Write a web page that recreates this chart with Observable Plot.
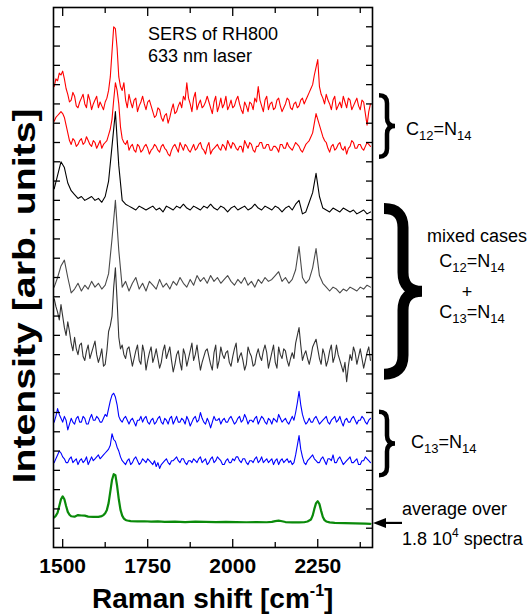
<!DOCTYPE html>
<html><head><meta charset="utf-8">
<script src="https://cdn.jsdelivr.net/npm/d3@7"></script>
<script src="https://cdn.jsdelivr.net/npm/@observablehq/plot@0.6"></script>
<style>html,body{margin:0;padding:0;background:#fff;} #chart svg{display:block;}</style>
</head><body><div id="chart"></div>
<script>
// Raman shift sampling (cm^-1)
const wavenumbersFine = d3.range(1475, 2406, 5);
const wavenumbersCoarse = d3.range(1475, 2406, 10);
// spectra, intensity relative to each trace's own baseline (arb. units)
const redA = [10,14,13,17,16,18,14,9,6,2,3,7,5,0,-1,2,4,6,1,-1,
  6,3,-2,1,3,5,-1,2,0,-2,2,4,8,15,28,41,40,30,15,10,
  8,12,3,-1,6,2,-1,3,4,-3,0,2,5,1,-2,2,3,0,-3,-6,
  -5,-1,-2,-6,-8,-5,-4,-9,-6,-2,1,-4,-3,0,2,-1,5,3,12,4,
  1,-3,4,7,-2,1,3,-1,0,2,5,2,-1,-4,2,5,-3,0,4,-1,
  1,5,-2,0,3,-1,0,3,5,1,-2,-4,2,0,-3,2,1,-2,4,2,
  10,3,0,-3,3,5,-2,1,2,-2,-1,3,4,0,-3,-1,1,4,3,-1,
  -2,1,2,-1,0,3,4,1,3,5,7,9,11,16,20,24,10,6,4,1,
  6,3,1,-2,3,5,-2,0,2,-1,5,2,-1,4,3,-2,0,2,4,0,
  -2,3,2,-4,-10,-3,1];
const redB = [13,15,16,17,18,17,15,11,7,3,1,4,3,0,1,3,4,1,2,5,
  3,1,0,3,2,-1,1,3,-1,1,2,3,6,9,14,24,33,29,22,10,
  4,2,1,3,-2,0,1,-2,-3,1,0,-3,-2,0,1,-1,-4,-2,-1,1,
  0,-2,-3,0,1,-1,-2,-4,-5,-2,0,1,-1,-3,2,0,-2,1,0,-2,
  -3,-1,1,-2,-1,1,2,-1,-2,-4,0,2,-4,-2,-1,0,1,-1,-2,1,
  0,-2,3,1,-1,2,1,-1,-2,0,0,-3,3,1,-1,2,1,-2,-3,0,
  0,2,2,-1,-1,1,1,-2,-2,0,0,-1,-3,1,1,-1,-1,2,0,-1,
  -2,0,2,1,0,-2,-3,-1,1,2,3,5,7,12,17,14,11,8,5,3,
  2,-1,-3,0,1,-2,-1,1,2,-1,-2,0,-4,-1,0,3,2,-1,-1,1,
  1,-1,-2,0,2,1,0];
const mixedA = [10,17,24,21,13,9,7,5,6,4, 5,6,4,5,3,6,14,32,50,22, 4,2,1,0,-1,1,0,-1,0,1,
  -1,0,-2,1,0,-1,1,0,2,0, -1,1,0,-1,1,0,2,0,-1,1, 0,-2,0,1,-1,0,1,-1,0,2,
  0,-1,1,0,-1,1,0,-2,0,1, -1,2,4,-3,-2,3,8,18,6,0, -1,-2,0,-1,-2,0,-1,-2,-1,-3, -2,-1,-3,-2];
const mixedB = [-1,4,10,13,4,-4,-2,1,-3,0, -2,2,-1,1,-2,0,6,24,44,18, -1,2,-3,1,4,-2,1,-3,2,0,
  -2,3,-1,1,-2,2,0,4,1,-1, 3,0,5,2,4,1,5,2,4,1, 3,5,2,0,3,1,4,0,2,-1,
  3,1,4,2,3,5,7,2,4,1, 3,8,20,4,1,3,9,19,5,1, -1,-3,-1,-2,-4,-2,-3,-1,-2,-3, -1,-2,0,-1];
const mixedC = [29,25,22,18,26,20,14,10,17,12,6,2,9,3,0,5,6,-1,-3,2,
  5,-2,1,4,7,0,-4,-1,3,-6,-5,2,12,15,20,35,45,28,9,3,
  5,0,-2,3,4,-1,-6,-2,2,5,-3,-5,5,1,-8,-3,1,4,-4,-1,
  3,-2,-7,-4,2,5,-2,1,4,-3,-9,-5,0,2,-4,-8,3,0,-6,-2,
  2,6,-3,0,5,-2,-8,-4,-1,2,3,-1,-5,-8,1,5,-7,-3,4,0,
  -2,1,2,-4,-6,-1,3,6,-4,-1,1,-3,-8,-5,4,1,-1,-6,-5,0,
  3,-1,-3,2,5,1,-7,-3,1,5,-4,-7,4,0,-2,3,2,-3,-6,-2,
  1,-2,6,10,14,5,-3,0,2,-2,-5,-1,4,6,8,3,-2,-5,3,0,
  -6,-3,2,5,-4,-1,5,0,-3,-6,-9,-4,-14,-6,0,-3,4,1,-5,-1,
  3,-2,-7,-3,1,4,-3];
const blueA = [-1,2,6,3,1,-1,2,0,-5,-2,1,-1,-2,1,2,-1,-1,2,1,-2,
  -2,1,3,0,0,2,1,-1,-1,1,3,2,6,10,13,14,12,8,2,0,
  -1,1,2,0,-2,0,1,-1,-3,0,0,2,-1,1,2,-1,-2,0,1,-2,
  -1,1,2,-1,-2,1,0,-2,1,2,-2,0,2,-1,-1,1,0,-2,2,0,
  -3,-1,1,2,-1,0,4,1,-1,-2,1,-1,-4,-1,2,0,0,1,-2,0,
  1,-1,-1,1,2,0,-2,-1,1,2,-1,0,3,1,-2,0,0,-1,1,2,
  -2,0,2,1,-1,-2,1,0,-2,1,0,-1,3,1,-1,0,1,-1,-2,0,
  2,0,4,9,15,8,3,0,-2,-1,1,-1,-1,1,2,0,-2,-1,0,1,
  2,-1,-2,0,1,2,-1,0,2,-1,-3,0,1,-1,-1,1,2,0,-2,0,
  0,2,1,-1,-2,0,1];
const blueB = [-1,1,3,5,4,2,1,-1,-1,1,2,-1,0,1,-2,0,1,-1,0,2,
  -2,0,2,0,1,2,3,1,2,3,4,5,6,8,14,11,10,7,5,2,
  0,-1,-2,0,1,-2,-1,1,2,0,-2,-1,1,0,-1,1,0,-1,-2,0,
  -3,-1,-4,-2,-1,0,1,-1,-2,0,0,1,2,0,-1,1,1,-1,-2,0,
  0,-1,1,0,-1,1,2,-1,0,1,-2,-1,1,2,-1,0,2,1,0,-2,
  -2,0,1,-1,-1,1,0,2,2,0,-1,1,1,-1,-2,0,0,-1,1,2,
  -1,0,2,-1,0,1,-1,0,1,-2,0,1,-2,0,1,-1,0,1,-1,0,
  -2,-1,3,8,13,6,2,-1,-2,0,1,2,3,1,0,-1,-1,1,2,0,
  -2,1,1,0,3,-1,-1,1,2,0,-2,-1,0,1,2,-1,-1,0,1,-2,
  -2,0,0,2,1,0,-1];
// average spectrum (sampled points)
const avgX = [1475,1480,1485,1490,1495,1500,1505,1510,1515,1520,1525,1535,1545,1555,1565,1575,1590,1605,1615,1620,
  1625,1630,1635,1640,1645,1650,1655,1660,1665,1670,1675,1680,1685,1690,1700,1720,1740,1760,1780,1800,
  1830,1860,1890,1920,1950,1980,2010,2040,2070,2100,2115,2125,2135,2145,2155,2175,2195,2210,2220,2230,
  2235,2240,2245,2250,2255,2260,2265,2270,2275,2285,2300,2330,2360,2390,2405];
const avgY = [2.6,3.5,5,8.5,12,13.5,12,8.5,5.5,4,3.2,3,3.8,3.6,3.5,3,2.9,2.9,3.3,3.8,
  4.8,6.5,10,16,22,25,24.5,19,12,6.5,3.5,2,1.3,1,0.7,0.5,0.6,0.4,0.5,0.3,
  0.4,0.2,0.4,0.3,0.2,0.3,0.2,0.1,0.2,0.1,0.3,0.7,0.9,0.6,0.2,0,0,0.1,0.5,1.5,
  3.5,7,10,11,9.5,6,2.8,1.2,0.5,0,-0.2,-0.4,-0.5,-0.6,-0.7];
// vertical offsets of the stacked traces
const baselines = [229, 208, 176, 136, 100, 66, 45, 13];
const xMajorTicks = [1500, 1750, 2000, 2250];
const xMinorTicks = [1625, 1875, 2125, 2375];
const yTicks = [10,20,30,40,50,60,70,80,90,100,110,120,130,140,150,160,170,180,190,200,210,220,230,240,250,260,270];

const traces = [
  {v: redA, xs: wavenumbersFine, stroke: "#ff0000", w: 1.1},
  {v: redB, xs: wavenumbersFine, stroke: "#ff0000", w: 1.1},
  {v: mixedA, xs: wavenumbersCoarse, stroke: "#000000", w: 1.1},
  {v: mixedB, xs: wavenumbersCoarse, stroke: "#4a4a4a", w: 1.1},
  {v: mixedC, xs: wavenumbersFine, stroke: "#333333", w: 1.1},
  {v: blueA, xs: wavenumbersFine, stroke: "#0000ff", w: 1.1},
  {v: blueB, xs: wavenumbersFine, stroke: "#0000ff", w: 1.1}
];
const rows = (t, i) => t.xs.map((x, k) => ({x, y: baselines[i] + t.v[k]}));
const avgRows = avgX.map((x, k) => ({x, y: baselines[7] + avgY[k]}));
const blank = () => "";

const chart = Plot.plot({
  width: 530, height: 615,
  marginLeft: 53, marginRight: 158, marginTop: 7, marginBottom: 68,
  style: {fontFamily: "'Liberation Sans', Arial, sans-serif", color: "black", background: "white", overflow: "visible"},
  x: {domain: [1473, 2411]},
  y: {domain: [0, 280]},
  marks: [
    ...traces.map((t, i) => Plot.line(rows(t, i), {x: "x", y: "y", stroke: t.stroke, strokeWidth: t.w})),
    Plot.line(avgRows, {x: "x", y: "y", stroke: "#0a8a0a", strokeWidth: 2.2}),
    Plot.axisX({anchor: "bottom", ticks: xMajorTicks, tickSize: -8, tickPadding: 19, tickFormat: d => String(d), fontSize: 21, fontWeight: "bold", label: null, strokeWidth: 1.3}),
    Plot.axisX({anchor: "bottom", ticks: xMinorTicks, tickSize: -5, tickFormat: blank, label: null, strokeWidth: 1.3}),
    Plot.axisX({anchor: "top", ticks: xMajorTicks, tickSize: -8, tickFormat: blank, label: null, strokeWidth: 1.3}),
    Plot.axisX({anchor: "top", ticks: xMinorTicks, tickSize: -5, tickFormat: blank, label: null, strokeWidth: 1.3}),
    Plot.axisY({anchor: "left", ticks: yTicks, tickSize: -7, tickFormat: blank, label: null, strokeWidth: 1.3}),
    Plot.axisY({anchor: "right", ticks: yTicks, tickSize: -7, tickFormat: blank, label: null, strokeWidth: 1.3}),
    Plot.frame({stroke: "black", strokeWidth: 1.6})
  ]
});
document.getElementById("chart").appendChild(chart);

// annotations
const xs = chart.scale("x"), ys = chart.scale("y");
const svg = d3.select(chart);
const g = svg.append("g").attr("font-family", "'Liberation Sans', Arial, sans-serif").attr("fill", "black").attr("text-anchor", "start");
const right = xs.range[1];

function brace(x, y1, y2, w, sw) {
  const m = (y1 + y2) / 2, h = w * 0.5, r = Math.min(w * 0.5, (m - y1) * 0.3);
  const p = `M${x},${y1} Q${x + h},${y1} ${x + h},${y1 + r} L${x + h},${m - r} Q${x + h},${m} ${x + w},${m} Q${x + h},${m} ${x + h},${m + r} L${x + h},${y2 - r} Q${x + h},${y2} ${x},${y2}`;
  g.append("path").attr("d", p).attr("fill", "none").attr("stroke", "black").attr("stroke-width", sw).attr("stroke-linecap", "butt");
}
brace(right + 7, ys.apply(baselines[0]) - 10, ys.apply(baselines[1]) + 11, 16, 4.5);
brace(right + 12, ys.apply(baselines[2]) + 1, ys.apply(baselines[4]) + 20, 38, 11);
brace(right + 7, ys.apply(baselines[5]) - 8, ys.apply(baselines[6]) + 15, 16, 4.5);

function formula(x, y, a, b, anchor) {
  const t = g.append("text").attr("x", x).attr("y", y).attr("font-size", 18).attr("text-anchor", anchor || "start");
  t.append("tspan").text("C");
  t.append("tspan").text(a).attr("font-size", 13).attr("dy", 5);
  t.append("tspan").text("=N").attr("dy", -5);
  t.append("tspan").text(b).attr("font-size", 13).attr("dy", 5);
  return t;
}
formula(right + 34, ys.apply(baselines[0]) + 30, "12", "14");
g.append("text").attr("x", 477).attr("y", 242).attr("font-size", 18).attr("text-anchor", "middle").text("mixed cases");
formula(472, 267, "12", "14", "middle");
g.append("text").attr("x", 467).attr("y", 298).attr("font-size", 18).attr("text-anchor", "middle").text("+");
formula(472, 318, "13", "14", "middle");
formula(right + 39, ys.apply(baselines[5]) + 28, "13", "14");

// arrow to the average trace
const ay = ys.apply(baselines[7]) + 1;
g.append("line").attr("x1", right + 12).attr("x2", right + 30).attr("y1", ay).attr("y2", ay).attr("stroke", "black").attr("stroke-width", 2.2);
g.append("path").attr("d", `M${right + 1},${ay} L${right + 14},${ay - 5} L${right + 14},${ay + 5} Z`).attr("fill", "black");
g.append("text").attr("x", right + 30).attr("y", ay - 8).attr("font-size", 18).text("average over");
const t2 = g.append("text").attr("x", right + 30).attr("y", ay + 22).attr("font-size", 18);
t2.append("tspan").text("1.8 10");
t2.append("tspan").text("4").attr("font-size", 12).attr("dy", -8);
t2.append("tspan").text(" spectra").attr("dy", 8);

// title inside plot
g.append("text").attr("x", 148).attr("y", 40).attr("font-size", 18).text("SERS of RH800");
g.append("text").attr("x", 148).attr("y", 62).attr("font-size", 18).text("633 nm laser");

// axis labels
const xl = g.append("text").attr("x", 92).attr("y", 608).attr("font-size", 28).attr("font-weight", "bold");
xl.append("tspan").text("Raman shift [cm");
xl.append("tspan").text("-1").attr("font-size", 16).attr("dy", -12);
xl.append("tspan").text("]").attr("dy", 12);
g.append("text").attr("transform", "translate(35,296) rotate(-90)").attr("font-size", 32).attr("font-weight", "bold")
  .attr("text-anchor", "middle").attr("textLength", 375).attr("lengthAdjust", "spacingAndGlyphs").text("Intensity [arb. units]");
</script>
</body></html>
